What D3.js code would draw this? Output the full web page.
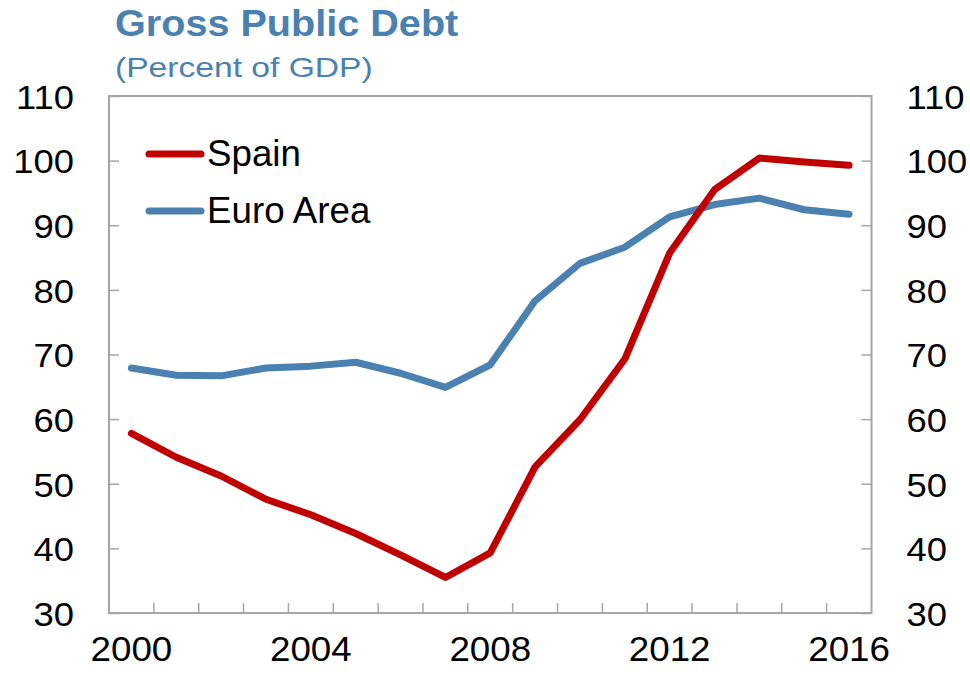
<!DOCTYPE html>
<html>
<head>
<meta charset="utf-8">
<script src="https://cdn.jsdelivr.net/npm/d3@7.9.0/dist/d3.min.js"></script>
<style>
  body { margin: 0; background: #fff; }
  svg text { font-family: "Liberation Sans", Arial, sans-serif; }
</style>
</head>
<body>
<svg id="chart" width="970" height="677"></svg>
<script>
// data
const years = d3.range(2000, 2017).map(String);
const spain = [57.8, 54.1, 51.2, 47.6, 45.2, 42.3, 39.0, 35.5, 39.3, 52.6, 59.9, 69.3, 85.7, 95.5, 100.4, 99.8, 99.3];
const euroArea = [67.9, 66.8, 66.7, 67.9, 68.2, 68.8, 67.1, 64.9, 68.4, 78.3, 84.1, 86.6, 91.3, 93.2, 94.2, 92.4, 91.7];
const yTicks = [30, 40, 50, 60, 70, 80, 90, 100, 110];
const xLabels = ["2000", "2004", "2008", "2012", "2016"];
const seriesNames = ["Spain", "Euro Area"];
const seriesColors = ["#c00000", "#4a81b1"];

const plotLeft = 109, plotRight = 871.5, plotTop = 96, plotBottom = 613;
const axisColor = "#a6a6a6";

const svg = d3.select('#chart');

const x = d3.scaleBand().domain(years).range([plotLeft, plotRight]);
const y = d3.scaleLinear().domain([30, 110]).range([plotBottom, plotTop]);
const cx = d => x(d) + x.bandwidth() / 2;

// the original text is a little wider than Liberation Sans
function stretch(sel, k) {
    sel.each(function () {
        const w = this.getComputedTextLength();
        d3.select(this).attr('textLength', w * k).attr('lengthAdjust', 'spacingAndGlyphs');
    });
}

// title
svg.append('text')
    .attr('x', 115).attr('y', 36)
    .attr('fill', '#4a81b1')
    .attr('font-size', 36).attr('font-weight', 'bold')
    .text('Gross Public Debt')
    .call(stretch, 1.1);
svg.append('text')
    .attr('x', 115).attr('y', 77)
    .attr('fill', '#4a81b1')
    .attr('font-size', 28)
    .text('(Percent of GDP)')
    .call(stretch, 1.2);

// frame
svg.append('rect')
    .attr('x', plotLeft).attr('y', plotTop)
    .attr('width', plotRight - plotLeft).attr('height', plotBottom - plotTop)
    .attr('fill', 'none').attr('stroke', axisColor).attr('stroke-width', 2);

// y axes
const yLeft = svg.append('g')
    .attr('transform', `translate(${plotLeft},0)`)
    .call(d3.axisLeft(y).tickValues(yTicks).tickSize(-10).tickPadding(35));
const yRight = svg.append('g')
    .attr('transform', `translate(${plotRight},0)`)
    .call(d3.axisRight(y).tickValues(yTicks).tickSize(-10).tickPadding(35));

[yLeft, yRight].forEach(g => {
    g.select('.domain').remove();
    g.selectAll('.tick line').attr('stroke', axisColor).attr('stroke-width', 1.5);
    g.selectAll('.tick text')
        .attr('fill', '#000')
        .attr('font-size', 34)
        .attr('font-family', '"Liberation Sans", Arial, sans-serif')
        .attr('dy', '0.36em')
        .call(stretch, 1.07);
});

// x axis: ticks between categories, labels every 4 years
const xAxis = svg.append('g')
    .attr('transform', `translate(0,${plotBottom})`)
    .call(d3.axisBottom(x).tickValues(xLabels).tickSize(0).tickPadding(23));
xAxis.select('.domain').remove();
xAxis.selectAll('.tick text')
    .attr('fill', '#000')
    .attr('font-size', 35)
    .attr('font-family', '"Liberation Sans", Arial, sans-serif')
    .attr('dy', '0.71em')
    .call(stretch, 1.05);

svg.append('g')
    .selectAll('line')
    .data(years.slice(1))
    .join('line')
    .attr('x1', d => x(d)).attr('x2', d => x(d))
    .attr('y1', plotBottom).attr('y2', plotBottom - 10)
    .attr('stroke', axisColor).attr('stroke-width', 1.5);

// lines
const line = d3.line()
    .x((d, i) => cx(years[i]))
    .y(d => y(d));

[euroArea, spain].forEach((vals, k) => {
    svg.append('path')
        .datum(vals)
        .attr('d', line)
        .attr('fill', 'none')
        .attr('stroke', seriesColors[1 - k])
        .attr('stroke-width', 7)
        .attr('stroke-linejoin', 'round')
        .attr('stroke-linecap', 'round');
});

// legend
const legend = svg.append('g');
seriesNames.forEach((name, i) => {
    const ly = 154 + i * 57;
    legend.append('line')
        .attr('x1', 149).attr('x2', 201)
        .attr('y1', ly).attr('y2', ly)
        .attr('stroke', seriesColors[i])
        .attr('stroke-width', 7)
        .attr('stroke-linecap', 'round');
    legend.append('text')
        .attr('x', 207).attr('y', ly + 12)
        .attr('font-size', 36)
        .attr('fill', '#000')
        .text(name)
        .call(stretch, 1.02);
});
</script>
</body>
</html>
